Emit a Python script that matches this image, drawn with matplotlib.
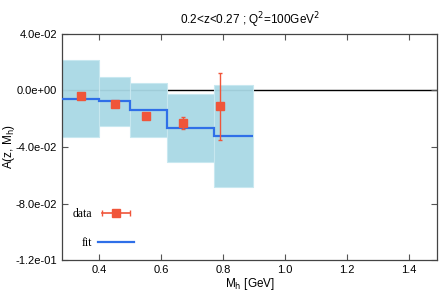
import matplotlib.pyplot as plt
from matplotlib.lines import Line2D
from matplotlib.legend_handler import HandlerLine2D
from matplotlib.ticker import FormatStrFormatter

plt.rcParams['font.family'] = ['Liberation Sans', 'DejaVu Sans']

# bins of the fit / band
bin_edges = [0.28, 0.40, 0.50, 0.62, 0.77, 0.895]
fit_vals = [-0.0057, -0.0076, -0.0137, -0.0268, -0.0322]
band_hi = [0.0218, 0.0095, 0.0050, -0.0024, 0.0036]
band_lo = [-0.0332, -0.0254, -0.0329, -0.0507, -0.0680]

# data points
data_x = [0.34, 0.45, 0.55, 0.67, 0.79]
data_y = [-0.0036, -0.0095, -0.0178, -0.0230, -0.0112]
data_err = [0.0012, 0.0013, 0.0012, 0.0045, 0.0237]

yticks = [0.04, 0.0, -0.04, -0.08, -0.12]
xticks = [0.4, 0.6, 0.8, 1.0, 1.2, 1.4]

red = '#f0553a'
blue = '#2f6fe8'

fig = plt.figure(figsize=(4.47, 3.04), dpi=100)
ax = fig.add_axes([0.1387, 0.1447, 0.8389, 0.7435])

ax.axhline(0, color='black', lw=1, zorder=1)

for i in range(len(fit_vals)):
    ax.fill_between([bin_edges[i], bin_edges[i + 1]], band_lo[i], band_hi[i],
                    color='#a9d8e5', edgecolor='#c8e8f0', lw=0.8, alpha=0.95, zorder=2)

ax.stairs(fit_vals, bin_edges, color=blue, lw=1.6, baseline=None, zorder=3)

ax.errorbar(data_x, data_y, yerr=data_err, fmt='s', color=red, ms=5.5,
            elinewidth=1, capsize=1.5, capthick=1, zorder=4)

ax.set_xlim(0.28, 1.49)
ax.set_ylim(-0.12, 0.04)
ax.set_xticks(xticks)
ax.set_yticks(yticks)
ax.yaxis.set_major_formatter(FormatStrFormatter('%.1e'))
ax.xaxis.set_major_formatter(FormatStrFormatter('%.1f'))
ax.tick_params(direction='in', top=True, right=True, labelsize=8, length=4, width=0.8,
               color='#555555')
for s in ax.spines.values():
    s.set_color('#444444')
    s.set_linewidth(0.9)

ax.set_xlabel('M$_\\mathrm{h}$ [GeV]', fontsize=8.5, labelpad=1)
ax.set_ylabel('A(z, M$_\\mathrm{h}$)', fontsize=8.5)
ax.yaxis.set_label_coords(-0.12, 0.5)
ax.set_title('0.2<z<0.27 ; Q$^\\mathrm{2}$=100GeV$^\\mathrm{2}$', fontsize=8.5, pad=7)

# legend handles
capline = Line2D([], [], color=red, lw=1.2, marker='|', ms=4, mew=1)
square = Line2D([], [], color=red, ls='none', marker='s', ms=5.5)
fitline = Line2D([], [], color=blue, lw=1.6)
leg = ax.legend([(capline, square), fitline], ['data', 'fit'],
                handler_map={capline: HandlerLine2D(numpoints=2),
                             square: HandlerLine2D(numpoints=1)},
                loc='lower left', bbox_to_anchor=(0.0, 0.0),
                markerfirst=False, frameon=False, labelspacing=1.5, handlelength=3,
                handletextpad=0.5, prop={'family': 'Liberation Serif', 'size': 8.5})

fig.savefig('out.png', dpi=100)
